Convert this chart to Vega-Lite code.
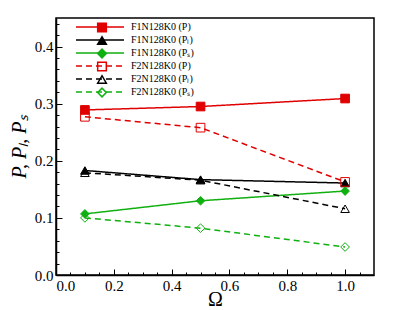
{
  "$schema": "https://vega.github.io/schema/vega-lite/v6.json",
  "width": 318,
  "height": 257,
  "autosize": {"type": "none"},
  "padding": {"left": 56, "top": 18, "right": 25, "bottom": 35},
  "config": {
    "view": {"stroke": "black", "strokeWidth": 1.5},
    "font": "Liberation Serif, serif",
    "axis": {"grid": false, "domainColor": "black", "domainWidth": 1.5, "tickColor": "black", "tickWidth": 1, "labelColor": "black", "titleColor": "black", "labelFont": "Liberation Serif, serif", "titleFont": "Liberation Serif, serif"},
    "legend": {"padding": 0, "labelFont": "Liberation Serif, serif", "labelFontSize": 10, "labelColor": "black", "rowPadding": 3}
  },
  "data": {
    "values": [
      {"series": "F1N128K0 (P)", "m": "F1P", "omega": 0.1, "value": 0.289},
      {"series": "F1N128K0 (P)", "m": "F1P", "omega": 0.5, "value": 0.295},
      {"series": "F1N128K0 (P)", "m": "F1P", "omega": 1.0, "value": 0.309},
      {"series": "F1N128K0 (Pₗ)", "m": "F1Pl", "omega": 0.1, "value": 0.183},
      {"series": "F1N128K0 (Pₗ)", "m": "F1Pl", "omega": 0.5, "value": 0.167},
      {"series": "F1N128K0 (Pₗ)", "m": "F1Pl", "omega": 1.0, "value": 0.161},
      {"series": "F1N128K0 (Pₛ)", "m": "F1Ps", "omega": 0.1, "value": 0.107},
      {"series": "F1N128K0 (Pₛ)", "m": "F1Ps", "omega": 0.5, "value": 0.130},
      {"series": "F1N128K0 (Pₛ)", "m": "F1Ps", "omega": 1.0, "value": 0.147},
      {"series": "F2N128K0 (P)", "m": "F2P", "omega": 0.1, "value": 0.277},
      {"series": "F2N128K0 (P)", "m": "F2P", "omega": 0.5, "value": 0.258},
      {"series": "F2N128K0 (P)", "m": "F2P", "omega": 1.0, "value": 0.163},
      {"series": "F2N128K0 (Pₗ)", "m": "F2Pl", "omega": 0.1, "value": 0.179},
      {"series": "F2N128K0 (Pₗ)", "m": "F2Pl", "omega": 0.5, "value": 0.166},
      {"series": "F2N128K0 (Pₗ)", "m": "F2Pl", "omega": 1.0, "value": 0.116},
      {"series": "F2N128K0 (Pₛ)", "m": "F2Ps", "omega": 0.1, "value": 0.100},
      {"series": "F2N128K0 (Pₛ)", "m": "F2Ps", "omega": 0.5, "value": 0.082},
      {"series": "F2N128K0 (Pₛ)", "m": "F2Ps", "omega": 1.0, "value": 0.049}
    ]
  },
  "resolve": {"axis": {"x": "independent", "y": "independent"}},
  "layer": [
    {
      "mark": {"type": "line", "strokeWidth": 1.5},
      "encoding": {
        "x": {"field": "omega", "type": "quantitative", "scale": {"domain": [0, 1.1], "nice": false},
          "axis": {"orient": "bottom", "values": [0, 0.2, 0.4, 0.6, 0.8, 1.0], "format": ".1f", "tickSize": -6, "labelPadding": 9, "labelFontSize": 15, "title": "Ω", "titleFontSize": 20, "titleFontWeight": "normal", "titleY": 30, "titleBaseline": "alphabetic"}},
        "y": {"field": "value", "type": "quantitative", "scale": {"domain": [0, 0.45], "nice": false},
          "axis": {"orient": "left", "values": [0, 0.1, 0.2, 0.3, 0.4], "format": ".1f", "tickSize": -6, "labelPadding": 9, "labelFontSize": 15, "title": "P, Pₗ, Pₛ", "titleFontSize": 20, "titleFontWeight": "normal", "titleFontStyle": "italic", "titleX": -31, "titleBaseline": "alphabetic"}},
        "color": {"field": "series", "type": "nominal",
          "scale": {"domain": ["F1N128K0 (P)", "F1N128K0 (Pₗ)", "F1N128K0 (Pₛ)", "F2N128K0 (P)", "F2N128K0 (Pₗ)", "F2N128K0 (Pₛ)"], "range": ["#e00000", "#000000", "#10b010", "#e00000", "#000000", "#10b010"]},
          "legend": {"orient": "none", "legendX": 39, "legendY": 4, "title": null, "symbolType": "M-6,0H6", "symbolSize": 64, "symbolStrokeWidth": 1.5, "labelOffset": 26}},
        "strokeDash": {"field": "series", "type": "nominal",
          "scale": {"domain": ["F1N128K0 (P)", "F1N128K0 (Pₗ)", "F1N128K0 (Pₛ)", "F2N128K0 (P)", "F2N128K0 (Pₗ)", "F2N128K0 (Pₛ)"], "range": [[1, 0], [1, 0], [1, 0], [6, 4], [6, 4], [6, 4]]},
          "legend": {"orient": "none", "legendX": 39, "legendY": 4, "title": null, "symbolType": "M-6,0H6", "symbolSize": 64, "symbolStrokeWidth": 1.5, "labelOffset": 26}}
      }
    },
    {
      "mark": {"type": "point", "filled": true, "size": 75, "strokeWidth": 1, "opacity": 1},
      "encoding": {
        "x": {"field": "omega", "type": "quantitative", "axis": null},
        "y": {"field": "value", "type": "quantitative", "axis": null},
        "shape": {"field": "m", "type": "nominal",
          "scale": {"domain": ["F1P", "F1Pl", "F1Ps", "F2P", "F2Pl", "F2Ps"], "range": ["square", "triangle-up", "diamond", "square", "triangle-up", "diamond"]},
          "legend": {"orient": "none", "legendX": 40.5, "legendY": 4, "rowPadding": -4, "title": null, "symbolSize": 75, "labelOpacity": 0}},
        "stroke": {"field": "m", "type": "nominal",
          "scale": {"domain": ["F1P", "F1Pl", "F1Ps", "F2P", "F2Pl", "F2Ps"], "range": ["#e00000", "#000000", "#10b010", "#e00000", "#000000", "#10b010"]},
          "legend": {"orient": "none", "legendX": 40.5, "legendY": 4, "rowPadding": -4, "title": null, "symbolSize": 75, "labelOpacity": 0}},
        "fill": {"field": "m", "type": "nominal",
          "scale": {"domain": ["F1P", "F1Pl", "F1Ps", "F2P", "F2Pl", "F2Ps"], "range": ["#e00000", "#000000", "#10b010", "transparent", "transparent", "transparent"]},
          "legend": {"orient": "none", "legendX": 40.5, "legendY": 4, "rowPadding": -4, "title": null, "symbolSize": 75, "labelOpacity": 0}}
      }
    },
    {
      "mark": {"type": "point", "opacity": 0},
      "encoding": {
        "x": {"field": "omega", "type": "quantitative",
          "axis": {"orient": "bottom", "values": [0.05, 0.1, 0.15, 0.25, 0.3, 0.35, 0.45, 0.5, 0.55, 0.65, 0.7, 0.75, 0.85, 0.9, 0.95, 1.05], "tickSize": -3, "labels": false, "domain": false, "title": null}},
        "y": {"field": "value", "type": "quantitative",
          "axis": {"orient": "left", "values": [0.02, 0.04, 0.06, 0.08, 0.12, 0.14, 0.16, 0.18, 0.22, 0.24, 0.26, 0.28, 0.32, 0.34, 0.36, 0.38, 0.42, 0.44], "tickSize": -3, "labels": false, "domain": false, "title": null}}
      }
    }
  ]
}
